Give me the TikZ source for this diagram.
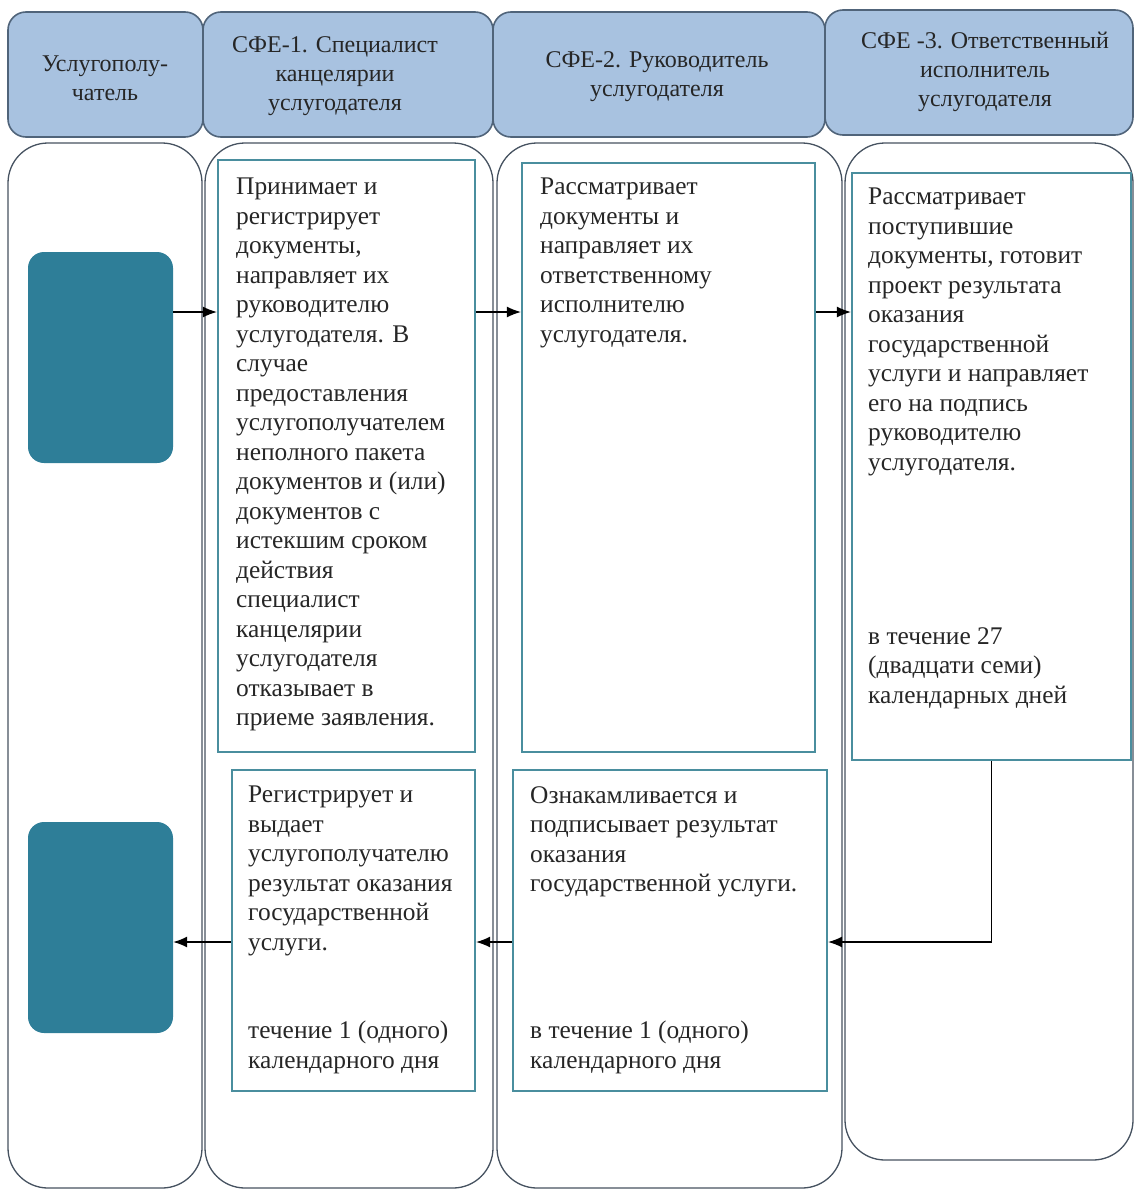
\documentclass[tikz,border=0pt]{standalone}
\usepackage{fontspec}
\setmainfont{Liberation Serif}
\usetikzlibrary{arrows.meta,fit}

\definecolor{hdrfill}{RGB}{168,194,224}
\definecolor{hdrline}{RGB}{80,100,122}
\definecolor{laneline}{RGB}{70,82,96}
\definecolor{boxline}{RGB}{74,142,158}
\definecolor{tealfill}{RGB}{46,126,152}

\tikzset{
  hdr/.style={draw=hdrline, fill=hdrfill, line width=1.6pt, rounded corners=18pt, inner sep=0pt},
  hdrtxt/.style={align=center, inner sep=0pt, text=black!85, font=\fontsize{24}{29}\selectfont},
  lane/.style={draw=laneline, line width=1.3pt, rounded corners=40pt, inner sep=0pt},
  stepbox/.style={draw=boxline, line width=2.2pt, inner sep=0pt},
  client/.style={fill=tealfill, rounded corners=16pt, inner sep=0pt},
  txt/.style={align=left, inner sep=0pt, anchor=north west, text=black!85,
    font=\fontsize{25.4}{29.5}\selectfont},
  arr/.style={-{Latex[length=14pt,width=11pt]}, line width=1.3pt},
}

\begin{document}
\begin{tikzpicture}[x=1pt,y=-1pt]
\useasboundingbox (0,0) rectangle (1138,1191);

\foreach \n/\xa/\xb/\yb in {l0/8/202/1188, l1/205/493/1188, l2/497/842/1188, l3/845/1133/1160}{
    \node[lane, fit={(\xa,143) (\xb,\yb)}] (\n) {};
}

\node[hdr, fit={(8,12) (203,137)}] (h0) {};
\node[hdr, fit={(203,12) (493,137)}] (h1) {};
\node[hdr, fit={(493,12) (825,137)}] (h2) {};
\node[hdr, fit={(825,10) (1133,135)}] (h3) {};
\node[hdrtxt] (h0t) at (105,78) {Услугополу-\\чатель};
\node[hdrtxt] (h1t) at (335,76) {СФЕ-1. Специалист\\канцелярии\\услугодателя};
\node[hdrtxt] (h2t) at (657,77) {СФЕ-2. Руководитель\\услугодателя};
\node[hdrtxt] (h3t) at (985,72) {СФЕ -3. Ответственный\\исполнитель\\услугодателя};

\node[client, fit={(28,252) (173,463)}] (c1) {};
\node[client, fit={(28,822) (173,1033)}] (c2) {};

\node[stepbox, fit={(218,160) (475,752)}] (b1) {};
\node[stepbox, fit={(522,163) (815,752)}] (b2) {};
\node[stepbox, fit={(852,173) (1131,760)}] (b3) {};
\node[stepbox, fit={(232,770) (475,1091)}] (b4) {};
\node[stepbox, fit={(513,770) (827,1091)}] (b5) {};

\node[txt] (s1) at (236,178) {Принимает и\\регистрирует\\документы,\\направляет их\\руководителю\\услугодателя. В\\случае\\предоставления\\услугополучателем\\неполного пакета\\документов и (или)\\документов с\\истекшим сроком\\действия\\специалист\\канцелярии\\услугодателя\\отказывает в\\приеме заявления.};
\node[txt] (s2) at (540,178) {Рассматривает\\документы и\\направляет их\\ответственному\\исполнителю\\услугодателя.};
\node[txt] (s3) at (868,188) {Рассматривает\\поступившие\\документы, готовит\\проект результата\\оказания\\государственной\\услуги и направляет\\его на подпись\\руководителю\\услугодателя.};
\node[txt] (s3t) at (868,627) {в течение 27\\(двадцати семи)\\календарных дней};
\node[txt] (s4) at (248,786) {Регистрирует и\\выдает\\услугополучателю\\результат оказания\\государственной\\услуги.};
\node[txt] (s4t) at (248,1021) {течение 1 (одного)\\календарного дня};
\node[txt] (s5) at (530,786) {Ознакамливается и\\подписывает результат\\оказания\\государственной услуги.};
\node[txt] (s5t) at (530,1021) {в течение 1 (одного)\\календарного дня};

\coordinate (row1) at (0,312);
\coordinate (row2) at (0,942);
\draw[arr] (c1.east |- row1) -- (b1.west |- row1);
\draw[arr] (b1.east |- row1) -- (b2.west |- row1);
\draw[arr] (b2.east |- row1) -- (b3.west |- row1);
\draw[arr] (b3.south) -- (b3.south |- row2) -- (b5.east |- row2);
\draw[arr] (b5.west |- row2) -- (b4.east |- row2);
\draw[arr] (b4.west |- row2) -- (c2.east |- row2);
\end{tikzpicture}
\end{document}
